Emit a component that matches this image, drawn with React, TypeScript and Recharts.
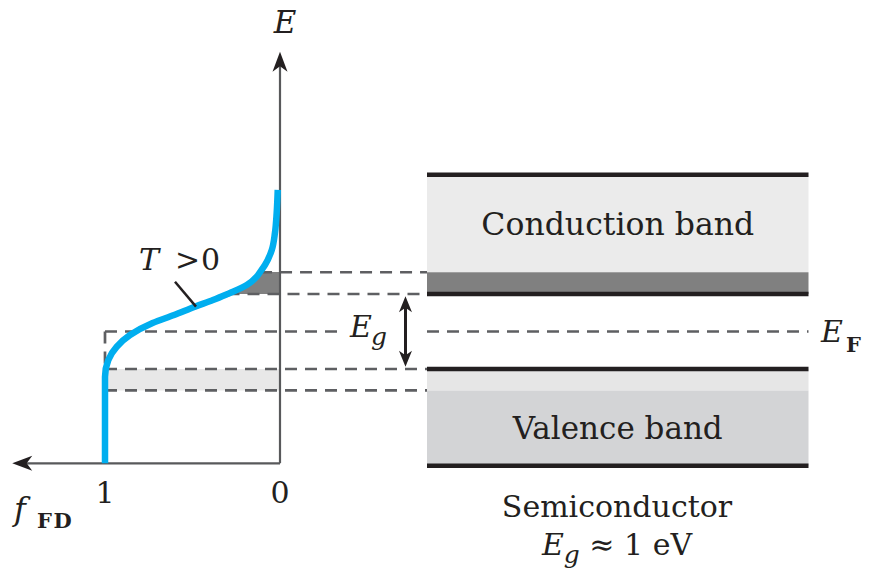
import React from 'react';
import {
  ComposedChart,
  Line,
  Area,
  XAxis,
  YAxis,
  ReferenceArea,
  ReferenceLine,
} from 'recharts';

// Fermi-Dirac occupancy (E in eV relative to E_F)
const curveEnergy = [1.887, 1.58, 1.313, 1.087, 0.887, 0.793, 0.731, 0.62, 0.531, 0.5, 0.42, 0.331, 0.22, 0.113, -0.047, -0.203, -0.38, -0.603, -0.913, -1.757];
const curveOccupancy = [0.013, 0.019, 0.029, 0.047, 0.086, 0.114, 0.133, 0.19, 0.269, 0.3, 0.383, 0.486, 0.605, 0.728, 0.857, 0.933, 0.981, 1, 1, 1];

// band energies (eV)
const conductionTop = 2.09;
const occupiedTop = 0.79;
const conductionEdge = 0.5;
const fermiLevel = 0;
const valenceEdge = -0.5;
const holeBottom = -0.786;
const valenceBottom = -1.79;

// axis extents
const fAxisEnergy = -1.757;
const eAxisTop = 3.73;
const fAxisEnd = 1.53;
const fTicks = [1, 0];

const curveData = curveEnergy.map((E, i) => ({ E, f: curveOccupancy[i] }));
const occupiedData = curveData.filter((d) => d.E <= occupiedTop + 0.01 && d.E >= conductionEdge);

// band diagram drawn on the same (reversed) f axis, to the right of f = 0
const bandLeft = -0.84;
const bandRight = -3.02;
const gapArrowX = -0.717;
const fermiGapEnd = -0.326;

const INK = '#231f20';
const DASH = '#5e5f62';
const FONT = 'DejaVu Serif';

const arrowShape = (color: string, width: number, len: number, half: number, both: boolean) => (p: any) => {
  const { x1, y1, x2, y2 } = p;
  const a = Math.atan2(y2 - y1, x2 - x1);
  const c = Math.cos(a);
  const s = Math.sin(a);
  const head = (tx: number, ty: number, dir: number) => {
    const bx = tx - dir * len * c;
    const by = ty - dir * len * s;
    const nx = tx - dir * len * 0.72 * c;
    const ny = ty - dir * len * 0.72 * s;
    return `M${tx},${ty} L${bx - half * s},${by + half * c} L${nx},${ny} L${bx + half * s},${by - half * c} Z`;
  };
  return (
    <g>
      <line
        x1={both ? x1 + len * 0.6 * c : x1}
        y1={both ? y1 + len * 0.6 * s : y1}
        x2={x2 - len * 0.6 * c}
        y2={y2 - len * 0.6 * s}
        stroke={color}
        strokeWidth={width}
      />
      <path d={head(x2, y2, 1)} fill={INK} />
      {both && <path d={head(x1, y1, -1)} fill={INK} />}
    </g>
  );
};

const dashProps = { stroke: DASH, strokeWidth: 2.7, strokeDasharray: '12 8' };
const bandLine = { stroke: INK, strokeWidth: 4.5 };

export default function App() {
  return (
    <div style={{ width: 871, height: 576, margin: -8, background: '#fff' }}>
      <ComposedChart
        width={871}
        height={576}
        layout="vertical"
        data={curveData}
        margin={{ top: 31.5, right: 31, bottom: 57, left: 0 }}
      >
        <XAxis type="number" dataKey="f" domain={[-3.2, 1.6]} reversed hide allowDataOverflow />
        <YAxis type="number" dataKey="E" domain={[-2.5, 4]} reversed hide allowDataOverflow />

        {/* bands */}
        <ReferenceArea
          x1={bandLeft}
          x2={bandRight}
          y1={occupiedTop}
          y2={conductionTop}
          fill="#ebebeb"
          fillOpacity={1}
          label={{ value: 'Conduction band', position: 'center', fill: INK, fontSize: 31.5, fontFamily: FONT }}
        />
        <ReferenceArea x1={bandLeft} x2={bandRight} y1={conductionEdge} y2={occupiedTop} fill="#808080" fillOpacity={1} />
        <ReferenceArea x1={bandLeft} x2={bandRight} y1={holeBottom} y2={valenceEdge} fill="#e6e6e6" fillOpacity={1} />
        <ReferenceArea
          x1={bandLeft}
          x2={bandRight}
          y1={valenceBottom}
          y2={holeBottom}
          fill="#d3d4d6"
          fillOpacity={1}
          label={{ value: 'Valence band', position: 'center', fill: INK, fontSize: 31, fontFamily: FONT }}
        />
        <ReferenceArea x1={1} x2={0} y1={holeBottom} y2={valenceEdge} fill="#e8e8e8" fillOpacity={1} />

        {/* dashed level lines */}
        <ReferenceLine segment={[{ x: 0.114, y: occupiedTop }, { x: bandLeft, y: occupiedTop }]} {...dashProps} />
        <ReferenceLine segment={[{ x: 0.3, y: conductionEdge }, { x: bandLeft, y: conductionEdge }]} {...dashProps} />
        <ReferenceLine segment={[{ x: 1, y: fermiLevel }, { x: fermiGapEnd, y: fermiLevel }]} {...dashProps} />
        <ReferenceLine segment={[{ x: bandLeft, y: fermiLevel }, { x: bandRight, y: fermiLevel }]} {...dashProps} />
        <ReferenceLine segment={[{ x: 1, y: valenceEdge }, { x: bandLeft, y: valenceEdge }]} {...dashProps} />
        <ReferenceLine segment={[{ x: 1, y: holeBottom }, { x: bandLeft, y: holeBottom }]} {...dashProps} />
        <ReferenceLine segment={[{ x: 1, y: fermiLevel }, { x: 1, y: valenceEdge }]} {...dashProps} />

        {/* band edges */}
        <ReferenceLine segment={[{ x: bandLeft, y: conductionTop }, { x: bandRight, y: conductionTop }]} {...bandLine} />
        <ReferenceLine segment={[{ x: bandLeft, y: conductionEdge }, { x: bandRight, y: conductionEdge }]} {...bandLine} />
        <ReferenceLine segment={[{ x: bandLeft, y: valenceEdge }, { x: bandRight, y: valenceEdge }]} {...bandLine} />
        <ReferenceLine segment={[{ x: bandLeft, y: valenceBottom }, { x: bandRight, y: valenceBottom }]} {...bandLine} />

        {/* gap arrow */}
        <ReferenceLine
          segment={[{ x: gapArrowX, y: conductionEdge - 0.03 }, { x: gapArrowX, y: valenceEdge + 0.03 }]}
          shape={arrowShape(INK, 3, 16, 6.5, true)}
        />

        {/* occupied states under the curve */}
        <Area
          data={occupiedData}
          dataKey="f"
          type="monotone"
          fill="#808080"
          fillOpacity={1}
          stroke="none"
          isAnimationActive={false}
        />

        {/* axes */}
        <ReferenceLine
          segment={[{ x: 0, y: fAxisEnergy }, { x: 0, y: eAxisTop }]}
          shape={arrowShape('#58595b', 2.2, 20, 7.5, false)}
        />
        <ReferenceLine
          segment={[{ x: 0, y: fAxisEnergy }, { x: fAxisEnd, y: fAxisEnergy }]}
          shape={arrowShape('#58595b', 2.2, 20, 7.5, false)}
        />

        <Line
          dataKey="f"
          type="monotone"
          stroke="#00aeef"
          strokeWidth={6.5}
          dot={false}
          isAnimationActive={false}
        />

        {/* T > 0 leader */}
        <ReferenceLine segment={[{ x: 0.6, y: 0.664 }, { x: 0.48, y: 0.331 }]} stroke={INK} strokeWidth={2.5} />

        <g fontFamily={FONT} fill={INK}>
          <text x={285} y={33} fontSize={31} fontStyle="italic" textAnchor="middle">E</text>
          <text y={270} fontSize={30}>
            <tspan x={139} fontStyle="italic">T</tspan>
            <tspan x={175}>&gt;</tspan>
            <tspan x={201}>0</tspan>
          </text>
          <text y={337} fontSize={30}>
            <tspan x={350} fontStyle="italic">E</tspan>
            <tspan x={371} dy={8} fontSize={25} fontStyle="italic">g</tspan>
          </text>
          <text y={342} fontSize={30}>
            <tspan x={821} fontStyle="italic">E</tspan>
            <tspan x={846} dy={10} fontSize={21} fontWeight="bold">F</tspan>
          </text>
          <text y={520} fontSize={32}>
            <tspan x={14} fontStyle="italic">f</tspan>
            <tspan x={37} dy={8} fontSize={21} fontWeight="bold" letterSpacing={1.5}>FD</tspan>
          </text>
          {fTicks.map((t) => (
            <text key={t} x={280 - 175 * t} y={503} fontSize={30} textAnchor="middle">{t}</text>
          ))}
          <text x={617} y={517} fontSize={30} textAnchor="middle">Semiconductor</text>
          <text x={617} y={555} fontSize={30} textAnchor="middle">
            <tspan fontStyle="italic">E</tspan>
            <tspan dy={8} fontSize={25} fontStyle="italic">g</tspan>
            <tspan dy={-8}> ≈ 1 eV</tspan>
          </text>
        </g>
      </ComposedChart>
    </div>
  );
}
